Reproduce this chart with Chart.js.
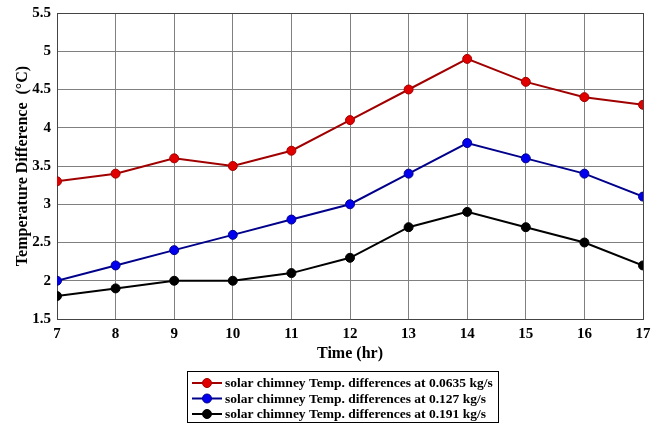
<!DOCTYPE html>
<html>
<head>
<meta charset="utf-8">
<script src="https://cdn.jsdelivr.net/npm/chart.js@4"></script>
<style>
  body { margin: 0; background: #fff; }
  #wrap { width: 663px; height: 425px; position: relative; }
</style>
</head>
<body>
<div id="wrap"><canvas id="myChart" width="663" height="425"></canvas></div>
<script>
var hours = [7, 8, 9, 10, 11, 12, 13, 14, 15, 16, 17];
var flow0635 = [3.3, 3.4, 3.6, 3.5, 3.7, 4.1, 4.5, 4.9, 4.6, 4.4, 4.3];
var flow127 = [2.0, 2.2, 2.4, 2.6, 2.8, 3.0, 3.4, 3.8, 3.6, 3.4, 3.1];
var flow191 = [1.8, 1.9, 2.0, 2.0, 2.1, 2.3, 2.7, 2.9, 2.7, 2.5, 2.2];
var seriesNames = [
  "solar chimney Temp. differences at 0.0635 kg/s",
  "solar chimney Temp. differences at 0.127 kg/s",
  "solar chimney Temp. differences at 0.191 kg/s"
];

var font = "Liberation Serif";

function toPoints(vals) {
  return hours.map(function (h, i) { return {x: h, y: vals[i]}; });
}

function makeSet(name, vals, lineCol, dotCol) {
  return {
    label: name,
    data: toPoints(vals),
    borderColor: lineCol,
    backgroundColor: dotCol,
    pointBorderColor: lineCol,
    pointBackgroundColor: dotCol,
    borderWidth: 2,
    pointRadius: 4.5,
    pointBorderWidth: 1,
    tension: 0
  };
}

// legend drawn inside the canvas, boxed like the original
var boxLegend = {
  id: "boxLegend",
  afterDraw: function (chart) {
    var ctx = chart.ctx;
    var x0 = 187, y0 = 371, w = 311, h = 51;
    ctx.save();
    ctx.strokeStyle = "#000";
    ctx.lineWidth = 1;
    ctx.strokeRect(x0 + 0.5, y0 + 0.5, w, h);
    ctx.font = "bold 13.5px '" + font + "'";
    ctx.textBaseline = "middle";
    chart.data.datasets.forEach(function (ds, i) {
      var y = y0 + 12 + i * 15.5;
      ctx.strokeStyle = ds.borderColor;
      ctx.lineWidth = 2;
      ctx.beginPath();
      ctx.moveTo(x0 + 5, y);
      ctx.lineTo(x0 + 35, y);
      ctx.stroke();
      ctx.beginPath();
      ctx.arc(x0 + 20, y, 4.5, 0, Math.PI * 2);
      ctx.fillStyle = ds.pointBackgroundColor;
      ctx.fill();
      ctx.lineWidth = 1;
      ctx.stroke();
      ctx.fillStyle = "#000";
      ctx.fillText(ds.label, x0 + 38, y + 1);
    });
    ctx.restore();
  }
};

new Chart("myChart", {
  type: "line",
  data: {
    datasets: [
      makeSet(seriesNames[0], flow0635, "#a00000", "#e00000"),
      makeSet(seriesNames[1], flow127, "#00008b", "#0000ee"),
      makeSet(seriesNames[2], flow191, "#000000", "#000000")
    ]
  },
  options: {
    responsive: false,
    animation: false,
    layout: { padding: { left: 13, right: 20, top: 13, bottom: 62 } },
    plugins: {
      legend: { display: false },
      tooltip: { enabled: false }
    },
    scales: {
      x: {
        type: "linear",
        min: 7,
        max: 17,
        ticks: { stepSize: 1, color: "#000", padding: 6, font: { family: font, size: 15, weight: "bold" } },
        grid: { color: "#808080", tickLength: 0 },
        border: { color: "#444", width: 1 },
        title: { display: true, text: "Time (hr)", color: "#000", padding: { top: 0, bottom: 0 }, font: { family: font, size: 16, weight: "bold" } },
        afterFit: function (scale) { scale.height = 44; }
      },
      y: {
        min: 1.5,
        max: 5.5,
        ticks: {
          stepSize: 0.5, color: "#000", padding: 6,
          font: { family: font, size: 15, weight: "bold" },
          callback: function (v) { return String(v); }
        },
        grid: { color: "#808080", tickLength: 0 },
        border: { color: "#444", width: 1 },
        title: { display: true, text: "Temperature Difference  (\u00B0C)", color: "#000", padding: { top: 0, bottom: 0 }, font: { family: font, size: 16, weight: "bold" } },
        afterFit: function (scale) {
          scale.width = 44;
          scale.paddingTop = 0;
          scale.paddingBottom = 0;
        }
      },
      x2: {
        position: "top",
        type: "linear",
        display: true,
        min: 7,
        max: 17,
        ticks: { display: false },
        grid: { display: false },
        border: { color: "#444", width: 1 },
        afterFit: function (scale) { scale.height = 0; }
      },
      y2: {
        position: "right",
        display: true,
        min: 1.5,
        max: 5.5,
        ticks: { display: false },
        grid: { display: false },
        border: { color: "#444", width: 1 },
        afterFit: function (scale) { scale.width = 0; }
      }
    }
  },
  plugins: [boxLegend]
});
</script>
</body>
</html>
